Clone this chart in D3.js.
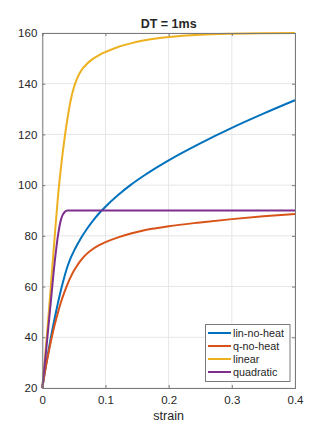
<!DOCTYPE html>
<html>
<head>
<meta charset="utf-8">
<script src="https://cdn.jsdelivr.net/npm/d3@7"></script>
<style>
  body { margin: 0; background: #fff; }
  text { font-family: "Liberation Sans", Arial, sans-serif; fill: #262626; }
</style>
</head>
<body>
<div id="chart"></div>
<script>
// values
const strain = [0, 0.005, 0.01, 0.015, 0.02, 0.025, 0.03, 0.035, 0.04, 0.045, 0.05, 0.055, 0.06, 0.065, 0.07,
  0.08, 0.09, 0.1, 0.12, 0.14, 0.16, 0.18, 0.2, 0.25, 0.3, 0.35, 0.4];
const linNoHeat = [20, 27.8, 35, 41.8, 48, 53.8, 59.1, 63.9, 68, 71.3, 74, 76.4, 78.6, 80.6, 82.5,
  85.9, 88.9, 91.5, 96.1, 100.1, 103.6, 106.8, 109.8, 116.5, 122.6, 128.2, 133.5];
const qNoHeat = [20, 27.5, 34, 40, 45.3, 50, 54.2, 57.8, 61, 63.8, 66.2, 68.2, 70, 71.5, 72.8,
  74.8, 76.3, 77.5, 79.4, 80.9, 82.1, 83, 83.8, 85.3, 86.6, 87.7, 88.6];
const linear = [20, 34, 49, 65, 81, 96, 108, 118, 126.5, 133.5, 138.5, 142, 144.5, 146.3, 147.7,
  149.8, 151.3, 152.5, 154.5, 155.9, 157, 157.8, 158.4, 159.3, 159.7, 159.9, 160];
const quadratic = [20, 32, 45, 58, 70.5, 80.5, 86.8, 89.3, 90, 90, 90, 90, 90, 90, 90,
  90, 90, 90, 90, 90, 90, 90, 90, 90, 90, 90, 90];
const seriesNames = ["lin-no-heat", "q-no-heat", "linear", "quadratic"];
const seriesColors = ["#0072BD", "#D95319", "#EDB120", "#7E2F8E"];
const xTicks = [0, 0.1, 0.2, 0.3, 0.4];
const yTicks = [20, 40, 60, 80, 100, 120, 140, 160];

const series = [linNoHeat, qNoHeat, linear, quadratic];

const svgWidth = 327;
const svgHeight = 436;
const margin = { top: 33, right: 32, bottom: 48, left: 42.3 };
const chartWidth = svgWidth - margin.left - margin.right;
const chartHeight = svgHeight - margin.top - margin.bottom;

const svg = d3.select("#chart").append("svg")
  .attr("width", svgWidth)
  .attr("height", svgHeight);

const chartGroup = svg.append("g")
  .attr("transform", `translate(${margin.left}, ${margin.top})`);

const xScale = d3.scaleLinear().domain([0, 0.4]).range([0, chartWidth]);
const yScale = d3.scaleLinear().domain([20, 160]).range([chartHeight, 0]);

// grid
chartGroup.append("g").selectAll("line").data(xTicks).enter().append("line")
  .attr("x1", d => xScale(d)).attr("x2", d => xScale(d))
  .attr("y1", 0).attr("y2", chartHeight)
  .attr("stroke", "#e6e6e6").attr("stroke-width", 1);
chartGroup.append("g").selectAll("line").data(yTicks).enter().append("line")
  .attr("y1", d => yScale(d)).attr("y2", d => yScale(d))
  .attr("x1", 0).attr("x2", chartWidth)
  .attr("stroke", "#e6e6e6").attr("stroke-width", 1);

// curves
const line = d3.line()
  .x((d, i) => xScale(strain[i]))
  .y(d => yScale(d))
  .curve(d3.curveMonotoneX);

series.forEach((s, k) => {
  chartGroup.append("path")
    .datum(s)
    .attr("fill", "none")
    .attr("stroke", seriesColors[k])
    .attr("stroke-width", 2)
    .attr("stroke-linejoin", "round")
    .attr("d", line);
});

// axes with inward ticks (box on)
const axisColor = "#7a7a7a";
const xAxisB = d3.axisBottom(xScale).tickValues(xTicks).tickSize(-3).tickPadding(7.5).tickFormat(d3.format("~g"));
const xAxisT = d3.axisTop(xScale).tickValues(xTicks).tickSize(-3).tickFormat("");
const yAxisL = d3.axisLeft(yScale).tickValues(yTicks).tickSize(-3).tickPadding(5);
const yAxisR = d3.axisRight(yScale).tickValues(yTicks).tickSize(-3).tickFormat("");

chartGroup.append("g").attr("transform", `translate(0,${chartHeight})`).call(xAxisB);
chartGroup.append("g").call(xAxisT);
chartGroup.append("g").call(yAxisL);
chartGroup.append("g").attr("transform", `translate(${chartWidth},0)`).call(yAxisR);

chartGroup.selectAll(".domain").attr("stroke", axisColor);
chartGroup.selectAll(".tick line").attr("stroke", axisColor);
chartGroup.selectAll(".tick text")
  .attr("font-size", "11.5px")
  .attr("font-family", "Liberation Sans, Arial, sans-serif")
  .attr("fill", "#262626");

// labels
svg.append("text")
  .attr("x", margin.left + chartWidth / 2)
  .attr("y", 27.5)
  .attr("text-anchor", "middle")
  .attr("font-size", "12.5px")
  .attr("font-weight", "bold")
  .attr("fill", "#000")
  .text("DT = 1ms");

svg.append("text")
  .attr("x", margin.left + chartWidth / 2)
  .attr("y", 419.5)
  .attr("text-anchor", "middle")
  .attr("font-size", "12.5px")
  .text("strain");

// legend
const legend = svg.append("g");
legend.append("rect")
  .attr("x", 205.5).attr("y", 324.5)
  .attr("width", 84.5).attr("height", 57)
  .attr("fill", "#fff").attr("stroke", axisColor).attr("stroke-width", 1);

seriesNames.forEach((name, k) => {
  const yy = 333 + k * 13;
  legend.append("line")
    .attr("x1", 208).attr("x2", 231)
    .attr("y1", yy).attr("y2", yy)
    .attr("stroke", seriesColors[k]).attr("stroke-width", 2);
  legend.append("text")
    .attr("x", 233).attr("y", yy + 3.8)
    .attr("font-size", "10.8px")
    .text(name);
});
</script>
</body>
</html>
